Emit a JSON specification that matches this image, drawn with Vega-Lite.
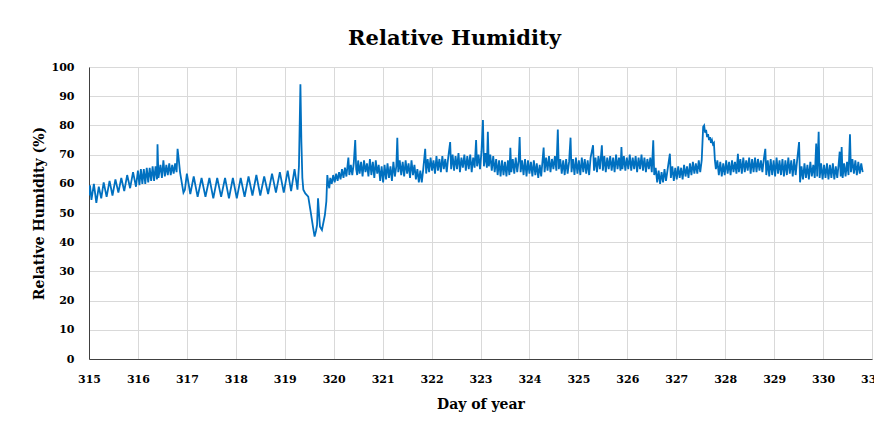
{
"$schema": "https://vega.github.io/schema/vega-lite/v6.json",
"width": 783, "height": 292,
"autosize": "none",
"padding": {"left": 89, "top": 67, "right": 2, "bottom": 62},
"background": "white",
"title": {"text": "Relative Humidity", "font": "DejaVu Serif", "fontSize": 21, "fontWeight": "bold", "color": "#000000", "anchor": "middle", "dx": -26, "offset": 12},
"config": {"view": {"stroke": null}},
"data": {"values": [
{"d":315.00,"rh":56},{"d":315.02,"rh":59.5},{"d":315.05,"rh":54.5},{"d":315.10,"rh":60},{"d":315.15,"rh":53.5},{"d":315.20,"rh":59},{"d":315.25,"rh":55},{"d":315.30,"rh":60.5},{"d":315.36,"rh":55.5},{"d":315.42,"rh":61},{"d":315.48,"rh":56},{"d":315.54,"rh":61.5},{"d":315.60,"rh":57},{"d":315.66,"rh":62},{"d":315.72,"rh":57.5},{"d":315.78,"rh":63},{"d":315.84,"rh":58.5},{"d":315.90,"rh":64},{"d":315.96,"rh":59},
{"d":316.00,"rh":64.5},{"d":316.03,"rh":59.5},{"d":316.06,"rh":65},{"d":316.09,"rh":60},{"d":316.12,"rh":65},{"d":316.15,"rh":60},{"d":316.18,"rh":65.5},{"d":316.21,"rh":60.5},{"d":316.24,"rh":65.5},{"d":316.27,"rh":61},{"d":316.30,"rh":66},{"d":316.33,"rh":61},{"d":316.36,"rh":66},{"d":316.39,"rh":61.5},{"d":316.40,"rh":73.5},{"d":316.42,"rh":62},{"d":316.46,"rh":66.5},{"d":316.49,"rh":62},{"d":316.52,"rh":68},{"d":316.55,"rh":62.5},{"d":316.58,"rh":66.5},{"d":316.61,"rh":63},{"d":316.64,"rh":67},{"d":316.67,"rh":63},{"d":316.70,"rh":66.5},{"d":316.73,"rh":63.5},{"d":316.76,"rh":67},{"d":316.79,"rh":64},{"d":316.81,"rh":72},{"d":316.83,"rh":69},{"d":316.86,"rh":64},{"d":316.90,"rh":60},{"d":316.93,"rh":57},
{"d":316.96,"rh":58},{"d":317.00,"rh":63.5},{"d":317.07,"rh":56.5},{"d":317.14,"rh":62.5},{"d":317.22,"rh":55.5},{"d":317.30,"rh":62},{"d":317.38,"rh":55.5},{"d":317.46,"rh":62},{"d":317.54,"rh":55},{"d":317.62,"rh":62},{"d":317.70,"rh":55.5},{"d":317.78,"rh":62},{"d":317.86,"rh":55},{"d":317.94,"rh":62},{"d":318.02,"rh":55},{"d":318.10,"rh":62},{"d":318.18,"rh":55.5},{"d":318.26,"rh":62.5},{"d":318.34,"rh":56},{"d":318.42,"rh":63},{"d":318.50,"rh":56},{"d":318.58,"rh":62.5},{"d":318.66,"rh":56.5},{"d":318.74,"rh":63.5},{"d":318.82,"rh":57},{"d":318.90,"rh":64},{"d":318.98,"rh":57},{"d":319.06,"rh":64.5},{"d":319.13,"rh":57.5},{"d":319.20,"rh":65},{"d":319.26,"rh":58},{"d":319.29,"rh":66},
{"d":319.32,"rh":94.1},{"d":319.34,"rh":74.4},{"d":319.36,"rh":62},{"d":319.38,"rh":58},{"d":319.42,"rh":56.7},{"d":319.48,"rh":55.6},{"d":319.53,"rh":50.4},{"d":319.58,"rh":44.9},{"d":319.61,"rh":41.9},{"d":319.64,"rh":44},{"d":319.66,"rh":45.9},{"d":319.68,"rh":55},{"d":319.70,"rh":50},{"d":319.72,"rh":45.3},{"d":319.76,"rh":44.2},{"d":319.82,"rh":49.3},{"d":319.85,"rh":54},{"d":319.87,"rh":63},{"d":319.89,"rh":60},{"d":319.91,"rh":58.5},
{"d":319.93,"rh":62},{"d":319.96,"rh":60},{"d":319.99,"rh":63},{"d":320.02,"rh":60.5},{"d":320.05,"rh":63.5},{"d":320.08,"rh":61},{"d":320.11,"rh":64},{"d":320.14,"rh":61.5},{"d":320.17,"rh":65},{"d":320.20,"rh":62},{"d":320.23,"rh":65.5},{"d":320.26,"rh":62.5},{"d":320.30,"rh":69},{"d":320.32,"rh":63},{"d":320.35,"rh":66.5},{"d":320.38,"rh":63},{"d":320.41,"rh":67},{"d":320.44,"rh":75},{"d":320.46,"rh":65},
{"d":320.48,"rh":63},{"d":320.50,"rh":68},{"d":320.53,"rh":63.5},{"d":320.56,"rh":67.5},{"d":320.59,"rh":62.5},{"d":320.62,"rh":68},{"d":320.65,"rh":64},{"d":320.68,"rh":67},{"d":320.71,"rh":62.5},{"d":320.74,"rh":68.5},{"d":320.77,"rh":63},{"d":320.80,"rh":67.5},{"d":320.83,"rh":62},{"d":320.86,"rh":68},{"d":320.89,"rh":63.5},{"d":320.92,"rh":66.5},{"d":320.95,"rh":61},{"d":320.98,"rh":66},
{"d":321.01,"rh":60.5},{"d":321.04,"rh":66.5},{"d":321.07,"rh":61.5},{"d":321.10,"rh":67},{"d":321.13,"rh":62},{"d":321.16,"rh":66},{"d":321.19,"rh":61},{"d":321.22,"rh":67.5},{"d":321.25,"rh":62.5},{"d":321.28,"rh":66},{"d":321.30,"rh":75.8},{"d":321.32,"rh":64},{"d":321.35,"rh":68},{"d":321.38,"rh":63},{"d":321.41,"rh":67.5},{"d":321.44,"rh":62.5},{"d":321.47,"rh":68},{"d":321.50,"rh":63.5},{"d":321.53,"rh":67},{"d":321.56,"rh":62},{"d":321.59,"rh":68},{"d":321.62,"rh":63},{"d":321.65,"rh":66.5},{"d":321.68,"rh":61.5},{"d":321.71,"rh":65},{"d":321.74,"rh":60.5},{"d":321.77,"rh":64.5},{"d":321.80,"rh":60.5},{"d":321.83,"rh":65},{"d":321.87,"rh":72},{"d":321.89,"rh":63.5},{"d":321.92,"rh":68.5},{"d":321.95,"rh":64},{"d":321.98,"rh":69},
{"d":322.01,"rh":64.5},{"d":322.04,"rh":68},{"d":322.07,"rh":63.5},{"d":322.10,"rh":69.5},{"d":322.13,"rh":64.5},{"d":322.16,"rh":68.5},{"d":322.19,"rh":64},{"d":322.22,"rh":69.5},{"d":322.25,"rh":65},{"d":322.28,"rh":68.5},{"d":322.31,"rh":64},{"d":322.34,"rh":69},{"d":322.38,"rh":74.3},{"d":322.40,"rh":65},{"d":322.43,"rh":70},{"d":322.46,"rh":64.5},{"d":322.49,"rh":69.5},{"d":322.52,"rh":65},{"d":322.55,"rh":70.5},{"d":322.58,"rh":64},{"d":322.61,"rh":69},{"d":322.64,"rh":65.5},{"d":322.67,"rh":70},{"d":322.70,"rh":64.5},{"d":322.73,"rh":69.5},{"d":322.76,"rh":65},{"d":322.79,"rh":70},{"d":322.82,"rh":64},{"d":322.85,"rh":69},{"d":322.88,"rh":65.5},{"d":322.91,"rh":75},{"d":322.93,"rh":66},{"d":322.96,"rh":70},{"d":322.99,"rh":65},
{"d":323.02,"rh":71},{"d":323.05,"rh":81.8},{"d":323.07,"rh":66},{"d":323.10,"rh":70.5},{"d":323.13,"rh":65.5},{"d":323.15,"rh":77.8},{"d":323.17,"rh":66},{"d":323.20,"rh":70},{"d":323.23,"rh":64.5},{"d":323.26,"rh":69.5},{"d":323.29,"rh":64},{"d":323.32,"rh":68.5},{"d":323.35,"rh":63},{"d":323.38,"rh":68},{"d":323.41,"rh":62.5},{"d":323.44,"rh":68},{"d":323.47,"rh":63},{"d":323.50,"rh":67.5},{"d":323.53,"rh":62.5},{"d":323.56,"rh":68},{"d":323.59,"rh":63},{"d":323.61,"rh":72.3},{"d":323.63,"rh":64},{"d":323.66,"rh":68.5},{"d":323.69,"rh":63.5},{"d":323.72,"rh":69},{"d":323.75,"rh":64},{"d":323.78,"rh":68},{"d":323.80,"rh":76},{"d":323.82,"rh":64},{"d":323.85,"rh":68},{"d":323.88,"rh":63},{"d":323.91,"rh":68.5},{"d":323.94,"rh":62.5},{"d":323.97,"rh":68},
{"d":324.00,"rh":63.5},{"d":324.03,"rh":67.5},{"d":324.06,"rh":62.5},{"d":324.09,"rh":68},{"d":324.12,"rh":63},{"d":324.15,"rh":67},{"d":324.18,"rh":62},{"d":324.21,"rh":66.5},{"d":324.24,"rh":62.5},{"d":324.29,"rh":72.4},{"d":324.31,"rh":64},{"d":324.34,"rh":69},{"d":324.37,"rh":64.5},{"d":324.40,"rh":69.5},{"d":324.43,"rh":64},{"d":324.46,"rh":68.5},{"d":324.49,"rh":65},{"d":324.52,"rh":69.5},{"d":324.55,"rh":64.5},{"d":324.58,"rh":78.6},{"d":324.60,"rh":65},{"d":324.63,"rh":68.5},{"d":324.66,"rh":63.5},{"d":324.69,"rh":68},{"d":324.72,"rh":63},{"d":324.75,"rh":68.5},{"d":324.78,"rh":63.5},{"d":324.81,"rh":67.5},{"d":324.84,"rh":75.8},{"d":324.86,"rh":64},{"d":324.89,"rh":68.5},{"d":324.92,"rh":63},{"d":324.95,"rh":69},{"d":324.98,"rh":63.5},
{"d":325.01,"rh":68},{"d":325.04,"rh":63},{"d":325.07,"rh":69},{"d":325.10,"rh":64},{"d":325.13,"rh":68.5},{"d":325.16,"rh":63.5},{"d":325.19,"rh":68},{"d":325.22,"rh":63},{"d":325.25,"rh":69},{"d":325.30,"rh":73.2},{"d":325.32,"rh":64.5},{"d":325.35,"rh":69},{"d":325.38,"rh":64},{"d":325.41,"rh":69.5},{"d":325.44,"rh":65},{"d":325.48,"rh":73.2},{"d":325.50,"rh":64.5},{"d":325.53,"rh":69.5},{"d":325.56,"rh":64},{"d":325.59,"rh":69},{"d":325.62,"rh":65},{"d":325.65,"rh":69.5},{"d":325.68,"rh":64.5},{"d":325.71,"rh":69},{"d":325.74,"rh":64},{"d":325.77,"rh":70},{"d":325.80,"rh":65},{"d":325.83,"rh":69},{"d":325.86,"rh":64.5},{"d":325.88,"rh":72.6},{"d":325.90,"rh":65},{"d":325.93,"rh":69.5},{"d":325.96,"rh":64.5},{"d":325.99,"rh":69},
{"d":326.02,"rh":65},{"d":326.05,"rh":70},{"d":326.08,"rh":64.5},{"d":326.11,"rh":69},{"d":326.14,"rh":65},{"d":326.17,"rh":69.5},{"d":326.20,"rh":64},{"d":326.23,"rh":69},{"d":326.26,"rh":65},{"d":326.29,"rh":70},{"d":326.32,"rh":64.5},{"d":326.35,"rh":69},{"d":326.38,"rh":64},{"d":326.41,"rh":68.5},{"d":326.44,"rh":65},{"d":326.47,"rh":69},{"d":326.50,"rh":64},{"d":326.53,"rh":74.9},{"d":326.55,"rh":63},{"d":326.58,"rh":65.5},{"d":326.61,"rh":60.5},{"d":326.64,"rh":64.5},{"d":326.67,"rh":60},{"d":326.70,"rh":64},{"d":326.73,"rh":60.5},{"d":326.76,"rh":65},{"d":326.79,"rh":61},{"d":326.82,"rh":64.5},{"d":326.87,"rh":70.3},{"d":326.89,"rh":62},{"d":326.92,"rh":66},{"d":326.95,"rh":61},{"d":326.98,"rh":65.5},
{"d":327.01,"rh":61.5},{"d":327.04,"rh":66},{"d":327.07,"rh":62},{"d":327.10,"rh":65.5},{"d":327.13,"rh":61.5},{"d":327.16,"rh":66.5},{"d":327.19,"rh":62.5},{"d":327.22,"rh":66},{"d":327.25,"rh":62},{"d":327.28,"rh":67},{"d":327.31,"rh":63},{"d":327.34,"rh":67.5},{"d":327.37,"rh":63.5},{"d":327.40,"rh":67},{"d":327.43,"rh":63.5},{"d":327.46,"rh":68},{"d":327.49,"rh":64},{"d":327.52,"rh":68},{"d":327.55,"rh":79.5},{"d":327.57,"rh":80},{"d":327.59,"rh":77.5},{"d":327.61,"rh":78.5},{"d":327.63,"rh":76},{"d":327.65,"rh":77},{"d":327.67,"rh":75},{"d":327.69,"rh":76},{"d":327.71,"rh":74},{"d":327.73,"rh":75},{"d":327.75,"rh":73.5},{"d":327.77,"rh":74},{"d":327.79,"rh":68},{"d":327.81,"rh":65},{"d":327.84,"rh":68},{"d":327.87,"rh":63},{"d":327.90,"rh":67.5},{"d":327.93,"rh":62.5},{"d":327.96,"rh":67},{"d":327.99,"rh":63},
{"d":328.02,"rh":68},{"d":328.05,"rh":63.5},{"d":328.08,"rh":67.5},{"d":328.11,"rh":63},{"d":328.14,"rh":68},{"d":328.17,"rh":64},{"d":328.20,"rh":67.5},{"d":328.23,"rh":63.5},{"d":328.26,"rh":70.3},{"d":328.28,"rh":64},{"d":328.31,"rh":68.5},{"d":328.34,"rh":63.5},{"d":328.37,"rh":69},{"d":328.40,"rh":64},{"d":328.43,"rh":68},{"d":328.46,"rh":64.5},{"d":328.49,"rh":69},{"d":328.52,"rh":63.5},{"d":328.55,"rh":68.5},{"d":328.58,"rh":64},{"d":328.61,"rh":69},{"d":328.64,"rh":64},{"d":328.67,"rh":68.5},{"d":328.70,"rh":64.5},{"d":328.73,"rh":68},{"d":328.76,"rh":64},{"d":328.79,"rh":68.5},{"d":328.82,"rh":72},{"d":328.84,"rh":63},{"d":328.87,"rh":68},{"d":328.90,"rh":62.5},{"d":328.93,"rh":68.5},{"d":328.96,"rh":63},{"d":328.99,"rh":68},
{"d":329.02,"rh":62.5},{"d":329.05,"rh":69},{"d":329.08,"rh":63.5},{"d":329.11,"rh":68},{"d":329.14,"rh":63},{"d":329.17,"rh":68.5},{"d":329.20,"rh":62.5},{"d":329.23,"rh":68},{"d":329.26,"rh":63},{"d":329.29,"rh":69},{"d":329.32,"rh":63.5},{"d":329.35,"rh":68},{"d":329.38,"rh":62.5},{"d":329.41,"rh":68.5},{"d":329.44,"rh":63},{"d":329.47,"rh":68},{"d":329.51,"rh":74.3},{"d":329.53,"rh":60.5},{"d":329.56,"rh":66},{"d":329.59,"rh":61.5},{"d":329.62,"rh":67},{"d":329.65,"rh":62},{"d":329.68,"rh":66.5},{"d":329.71,"rh":61.5},{"d":329.74,"rh":67.5},{"d":329.77,"rh":62.5},{"d":329.80,"rh":66.5},{"d":329.83,"rh":62},{"d":329.86,"rh":73.8},{"d":329.88,"rh":62.5},{"d":329.91,"rh":77.8},{"d":329.93,"rh":62},{"d":329.96,"rh":67},{"d":329.99,"rh":61.5},
{"d":330.02,"rh":66.5},{"d":330.05,"rh":62},{"d":330.08,"rh":67},{"d":330.11,"rh":61.5},{"d":330.14,"rh":66.5},{"d":330.17,"rh":62},{"d":330.20,"rh":67},{"d":330.23,"rh":61.5},{"d":330.26,"rh":66},{"d":330.29,"rh":62},{"d":330.32,"rh":67},{"d":330.34,"rh":71},{"d":330.36,"rh":62.5},{"d":330.38,"rh":72.6},{"d":330.40,"rh":62},{"d":330.43,"rh":67},{"d":330.46,"rh":62.5},{"d":330.49,"rh":67.5},{"d":330.52,"rh":63},{"d":330.55,"rh":77},{"d":330.57,"rh":64},{"d":330.60,"rh":68.5},{"d":330.63,"rh":63.5},{"d":330.66,"rh":68},{"d":330.69,"rh":63},{"d":330.72,"rh":67.5},{"d":330.75,"rh":63.5},{"d":330.78,"rh":67},{"d":330.81,"rh":64}
]},
"mark": {"type": "line", "color": "#0070C0", "strokeWidth": 1.8, "clip": true},
"encoding": {
"x": {"field": "d", "type": "quantitative", "scale": {"domain": [315, 331], "nice": false, "zero": false},
"axis": {"title": "Day of year", "values": [315,316,317,318,319,320,321,322,323,324,325,326,327,328,329,330,331], "format": "d", "ticks": false, "labelPadding": 14, "titlePadding": 13, "domainColor": "#404040", "gridColor": "#d9d9d9", "labelFont": "DejaVu Serif", "labelFontWeight": "bold", "labelFontSize": 11, "labelColor": "#000000", "titleFont": "DejaVu Serif", "titleFontWeight": "bold", "titleFontSize": 14, "titleColor": "#000000", "labelOverlap": false, "labelFlush": false}},
"y": {"field": "rh", "type": "quantitative", "scale": {"domain": [0, 100], "nice": false},
"axis": {"title": "Relative Humidity (%)", "values": [0,10,20,30,40,50,60,70,80,90,100], "ticks": false, "labelPadding": 15, "titlePadding": 5, "domainColor": "#404040", "gridColor": "#d9d9d9", "labelFont": "DejaVu Serif", "labelFontWeight": "bold", "labelFontSize": 11, "labelColor": "#000000", "titleFont": "DejaVu Serif", "titleFontWeight": "bold", "titleFontSize": 14, "titleColor": "#000000"}}
}
}
